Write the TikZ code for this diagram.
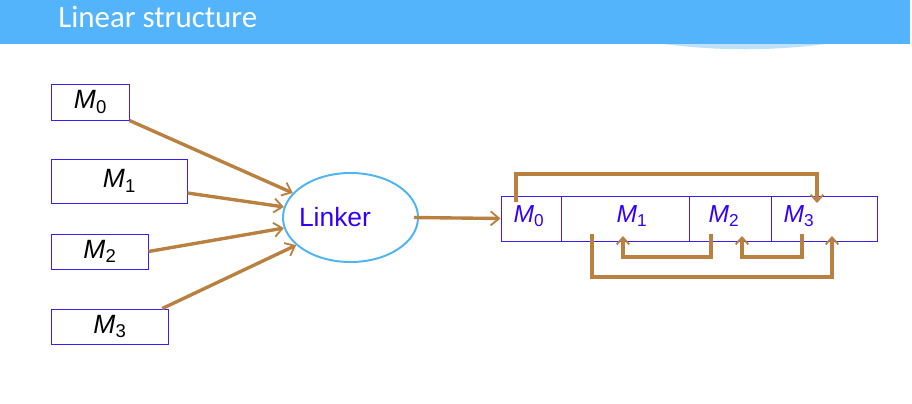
\documentclass[tikz,border=0pt]{standalone}
\usepackage{fontspec}
\setmainfont{Liberation Sans}
\newfontfamily\headfont{Carlito}
\usepackage{tikz}
\usetikzlibrary{arrows.meta,shapes.geometric}

\definecolor{bandblue}{RGB}{83,180,252}
\definecolor{shadeblue}{RGB}{190,225,250}
\definecolor{boxblue}{RGB}{55,30,255}
\definecolor{textblue}{RGB}{51,0,255}
\definecolor{ringblue}{RGB}{80,180,240}
\definecolor{linkbrown}{RGB}{185,128,64}

\newcommand{\Msub}[1]{\textit{M}\textsubscript{#1}}

\tikzset{
  mbox/.style={draw=boxblue, line width=0.7pt, font=\fontsize{18.8}{20}\selectfont},
  cell/.style={draw=boxblue, line width=0.7pt, minimum height=1.125cm},
  celltext/.style={text=textblue, font=\fontsize{17.5}{18}\selectfont},
  link/.style={draw=linkbrown, line width=2.4pt, -{Straight Barb[length=6pt,width=10pt,line width=1.3pt]}},
  jump/.style={draw=linkbrown, line width=2.4pt, -{Straight Barb[length=5pt,width=9pt,line width=1.3pt]}}
}

\begin{document}
\begin{tikzpicture}[x=0.025cm, y=0.025cm]
\tikzstyle{every node}+=[inner sep=0pt]
\useasboundingbox (0,0) rectangle (912,-403);
% title band
\fill [bandblue] (0,0) rectangle (910,-44);
\fill [shadeblue] (663,-44) .. controls (720,-51) and (770,-51) .. (826,-44) -- cycle;
\node [anchor=base west, text=white, font=\headfont\fontsize{22}{24}\selectfont] (title) at (58,-27) {Linear structure};
% modules
\node [mbox, minimum width=1.925cm, minimum height=0.9cm] (m0) at (90.5,-102) {\Msub{0}};
\node [mbox, minimum width=3.375cm, minimum height=1.1cm] (m1) at (119.5,-181) {\Msub{1}};
\node [mbox, minimum width=2.4cm, minimum height=0.875cm] (m2) at (100,-251.5) {\Msub{2}};
\node [mbox, minimum width=2.9cm, minimum height=0.875cm] (m3) at (110,-326.5) {\Msub{3}};
% linker
\node [draw=ringblue, line width=1.4pt, ellipse, minimum width=3.375cm, minimum height=2.225cm] (linker) at (350.5,-217.5) {};
\node [text=textblue, font=\fontsize{18.8}{20}\selectfont] (linkertext) at (335,-217) {Linker};
\draw [link] (m0.south east) -- (linker.157);
\draw [link] (m1.-10) -- (linker.171);
\draw [link] (m2.east) -- (linker.189);
\draw [link] (m3.19) -- (linker.207);
% linked image
\node [cell, minimum width=1.5cm] (c0) at (531,-218.5) {};
\node [cell, minimum width=3.2cm] (c1) at (625,-218.5) {};
\node [cell, minimum width=2.05cm] (c2) at (730,-218.5) {};
\node [cell, minimum width=2.65cm] (c3) at (824,-218.5) {};
\node [celltext] (t0) at (529,-216) {\Msub{0}};
\node [celltext] (t1) at (632,-216) {\Msub{1}};
\node [celltext] (t2) at (724,-216) {\Msub{2}};
\node [celltext] (t3) at (799,-216) {\Msub{3}};
\draw [link] ([xshift=-0.125cm]linker.east) -- (c0.west);
% references between modules
\coordinate (from0) at (516,-202);
\coordinate (to3) at (817,-203);
\coordinate (from2) at (711,-234);
\coordinate (to1) at (623,-236);
\coordinate (from3) at (802,-234);
\coordinate (to2) at (742,-236);
\coordinate (from1) at (592,-234);
\coordinate (to3b) at (832,-236);
\draw [jump] (from0) -- ++(0,28) -| (to3);
\draw [jump] (from2) -- ++(0,-23) -| (to1);
\draw [jump] (from3) -- ++(0,-23) -| (to2);
\draw [jump] (from1) -- ++(0,-43) -| (to3b);
\end{tikzpicture}
\end{document}
